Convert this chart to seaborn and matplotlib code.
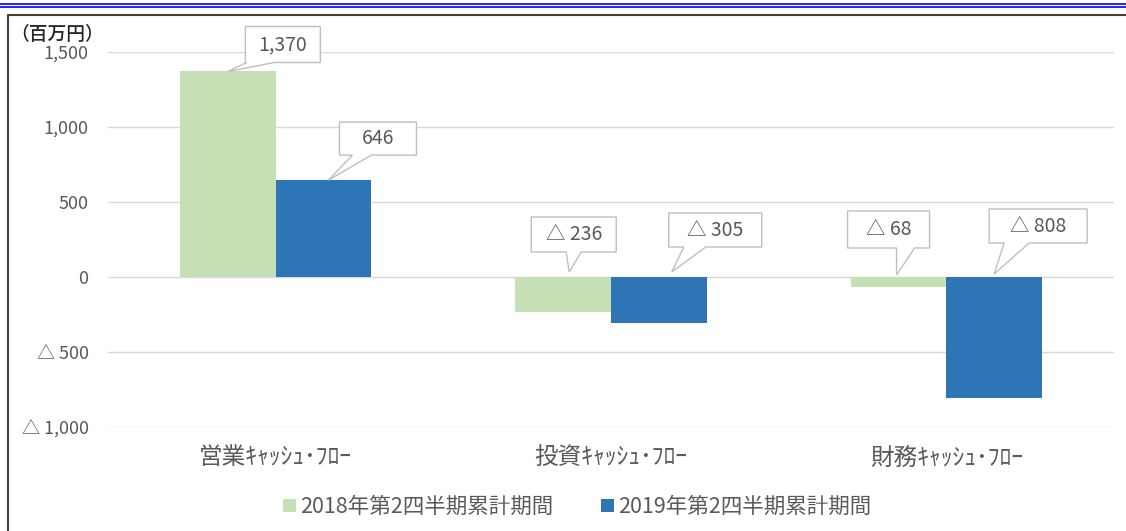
import pandas as pd
import numpy as np
import matplotlib
matplotlib.use('Agg')
import matplotlib.pyplot as plt
import matplotlib.transforms as mtransforms
from matplotlib.patches import Polygon, Patch
from matplotlib.lines import Line2D
from matplotlib.ticker import FuncFormatter
import seaborn as sns

# ── data ──────────────────────────────────────────────────────────────────
categories = ['営業ｷｬｯｼｭ･ﾌﾛｰ', '投資ｷｬｯｼｭ･ﾌﾛｰ', '財務ｷｬｯｼｭ･ﾌﾛｰ']
periods = ['2018年第2四半期累計期間', '2019年第2四半期累計期間']
values_2018 = [1370, -236, -68]
values_2019 = [646, -305, -808]
y_ticks = [-1000, -500, 0, 500, 1000, 1500]
unit_label = '（百万円）'

GREEN = '#C5E0B4'; BLUE = '#2E75B6'
GRID = '#D9D9D9'; TXT = '#595959'; FRAME = '#404040'; BOXEDGE = '#BFBFBF'

sns.set_theme(style='white')
plt.rcParams['font.family'] = ['Noto Sans CJK JP', 'DejaVu Sans']

df = pd.DataFrame({
    'category': categories * 2,
    'period': [periods[0]] * 3 + [periods[1]] * 3,
    'value': values_2018 + values_2019,
})

W, H, DPI = 1126, 531, 100
fig = plt.figure(figsize=(W / DPI, H / DPI), dpi=DPI)
fig.patch.set_facecolor('white')
ax = fig.add_axes([108 / W, 104 / H, (1114 - 108) / W, (427 - 52) / H])

sns.barplot(data=df, x='category', y='value', hue='period', order=categories,
            hue_order=periods, palette=[GREEN, BLUE], width=0.57, gap=0,
            linewidth=0, saturation=1, ax=ax, legend=False)

ax.set_ylim(-1000, 1500)
ax.set_yticks(y_ticks)
ax.yaxis.set_major_formatter(FuncFormatter(
    lambda v, p: f'{v:,.0f}' if v >= 0 else f'△ {abs(v):,.0f}'))
ax.grid(axis='y', color=GRID, lw=1)
ax.set_axisbelow(True)
for sp in ax.spines.values():
    sp.set_visible(False)
ax.tick_params(axis='y', length=0, pad=14, labelsize=13, labelcolor=TXT)
ax.tick_params(axis='x', length=0, pad=14, labelsize=17, labelcolor=TXT)
ax.set_xlabel(''); ax.set_ylabel('')

# ── callouts (pixel offsets relative to the bar end) ──────────────────────
# tip offset (dx, dy), box left, box bottom, box w, box h, wedge start, wedge width
callouts = [
    (0, 0, 17.5, 9, 75, 36, 1, 28),
    (5, 0, 11, 25, 77, 33, 13, 19),
    (6, 5, -38, 20, 85, 35, 35, 15),
    (13, 5, -3, 25, 93, 34, 15, 22),
    (-2, 2, -49, 27, 82, 37, 49, 18),
    (0, 3, -5, 31, 98, 34, 15, 25),
]

def fmt(v):
    return f'{v:,.0f}' if v >= 0 else f'△ {abs(v):,.0f}'

k = 0
for i in range(len(categories)):
    for j in range(len(periods)):
        bar = ax.containers[j].patches[i]
        v = [values_2018, values_2019][j][i]
        tdx, tdy, L, b, w, h, wa, ww = callouts[k]
        k += 1
        xc = bar.get_x() + bar.get_width() / 2
        tr = mtransforms.Affine2D().translate(tdx, tdy) + \
            mtransforms.ScaledTranslation(xc, max(v, 0), ax.transData)
        verts = [(L, b), (L + wa, b), (0, 0), (L + wa + ww, b), (L + w, b),
                 (L + w, b + h), (L, b + h)]
        poly = Polygon(verts, closed=True, transform=tr, facecolor='white',
                       edgecolor=BOXEDGE, lw=1, clip_on=False, zorder=5)
        ax.add_artist(poly)
        ax.text(L + w / 2, b + h / 2, fmt(v), transform=tr, ha='center',
                va='center', fontsize=14, color=TXT, zorder=6, clip_on=False)

# ── legend ────────────────────────────────────────────────────────────────
handles = [Patch(facecolor=GREEN, edgecolor='none'), Patch(facecolor=BLUE, edgecolor='none')]
fig.legend(handles, periods, loc='center', bbox_to_anchor=(577 / W, 1 - 507 / H),
           ncol=2, frameon=False, fontsize=15.5, labelcolor=TXT, handlelength=0.6,
           handleheight=0.6, handletextpad=0.2, columnspacing=2.2)

# ── unit label & frame ────────────────────────────────────────────────────
fig.text(10 / W, 1 - 35 / H, unit_label, ha='left', va='center', fontsize=13.5,
         color='#262626', fontweight='medium')
fig.add_artist(Line2D([0, 1], [1 - 3.5 / H] * 2, color='#0000FF', lw=1.2))
fig.add_artist(Line2D([0, 1], [1 - 6.5 / H] * 2, color='#0000FF', lw=1.2))
fig.add_artist(Line2D([8 / W, 1], [1 - 15 / H] * 2, color=FRAME, lw=1.5))
fig.add_artist(Line2D([8 / W] * 2, [0, 1 - 15 / H], color=FRAME, lw=1.5))

fig.savefig('out.png', dpi=DPI, facecolor='white')
plt.close()
